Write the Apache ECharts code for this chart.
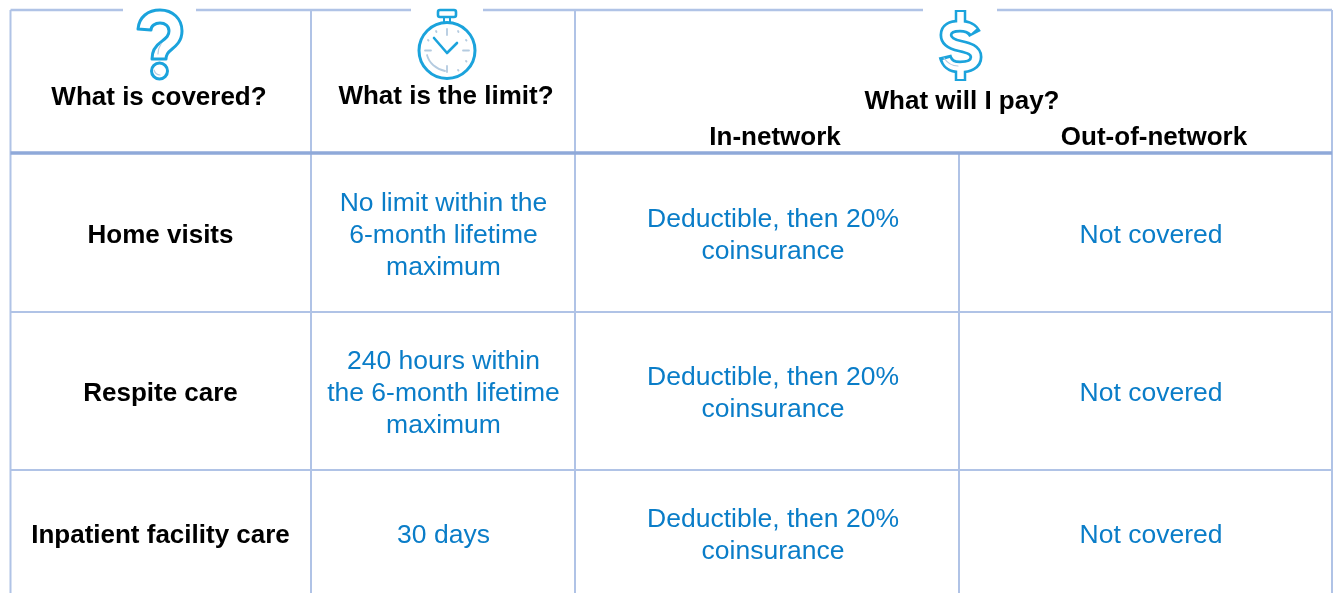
<!DOCTYPE html>
<html><head><meta charset="utf-8">
<style>html,body{margin:0;padding:0;background:#fff}#c{width:1337px;height:593px}</style>
<script src="https://cdn.jsdelivr.net/npm/echarts@6/dist/echarts.min.js"></script>
</head><body><div id="c"></div>
<script>
const headerLabels = ['What is covered?', 'What is the limit?', 'What will I pay?', 'In-network', 'Out-of-network'];
const services = ['Home visits', 'Respite care', 'Inpatient facility care'];
const limits = ['No limit within the\n6-month lifetime\nmaximum', '240 hours within\nthe 6-month lifetime\nmaximum', '30 days'];
const inNetwork = ['Deductible, then 20%\ncoinsurance', 'Deductible, then 20%\ncoinsurance', 'Deductible, then 20%\ncoinsurance'];
const outOfNetwork = ['Not covered', 'Not covered', 'Not covered'];

const colEdges = [10.5, 311, 575, 959, 1332];
const rowEdges = [153, 312, 470, 593];
const colCenters = [160.5, 443.5, 773, 1151];
const rowCenters = [236, 394, 536];
const FONT = '"Liberation Sans"';
const INK = '#000000', BLUE = '#0a7dc8', GRID = '#b0c3e6', HEAD = '#8fa9d9', ICON = '#1ba3dc', SOFT = '#b4cbe0';

const texts = [];
[[159,98],[446,97],[962,102],[775,138],[1154,138]].forEach((p,i)=>texts.push({x:p[0],y:p[1],t:headerLabels[i],bold:1}));
services.forEach((s,i)=>texts.push({x:colCenters[0],y:rowCenters[i],t:s,bold:1}));
limits.forEach((s,i)=>texts.push({x:colCenters[1],y:rowCenters[i],t:s}));
inNetwork.forEach((s,i)=>texts.push({x:colCenters[2],y:rowCenters[i],t:s}));
outOfNetwork.forEach((s,i)=>texts.push({x:colCenters[3],y:rowCenters[i],t:s}));

const lines = [
  [colEdges[0],10,123,10,GRID,2.5],[196,10,411,10,GRID,2.5],[483,10,923,10,GRID,2.5],[997,10,colEdges[4],10,GRID,2.5],
  [colEdges[0],10,colEdges[0],593,GRID,2],[colEdges[1],10,colEdges[1],593,GRID,2],[colEdges[2],10,colEdges[2],593,GRID,2],
  [colEdges[3],153,colEdges[3],593,GRID,2],[colEdges[4],10,colEdges[4],593,GRID,2],
  [colEdges[0],rowEdges[1],colEdges[4],rowEdges[1],GRID,2],[colEdges[0],rowEdges[2],colEdges[4],rowEdges[2],GRID,2],
  [colEdges[0],rowEdges[0],colEdges[4],rowEdges[0],HEAD,3.5]
];

const stroke=(d,c,w,cap)=>({type:'path',shape:{pathData:d},style:{fill:'none',stroke:c,lineWidth:w,lineCap:cap||'round',lineJoin:'round'}});
const qm='M138 29C139 17 148 10 160 10C173 10 182 19 182 31C182 41 176 46 171 50C167 53 166 55 166 59L152 59C152 51 155 46 161 42C166 38 169 36 169 31C169 26 165 23 160 23C155 23 151 26 151 30Z';
const sOuter='M975 34C972 28 966 26 960 26C951 26 946 29 946 35C946 42 953 44.5 960 46C969 48 976 50 976 57C976 64 969 67 960 67C952 67 947 64 945 56';
const sInner='M973.8 31C971 28 966 26 960 26C951 26 946 29 946 35C946 42 953 44.5 960 46C969 48 976 50 976 57C976 64 969 67 960 67C952 67 947.6 64 946.2 59';
const icons=[
  stroke(qm,ICON,3),
  {type:'circle',shape:{cx:159.5,cy:71,r:8},style:{fill:'#fff',stroke:ICON,lineWidth:3}},
  stroke('M158 54C158 50 159 47 161 44',SOFT,1.2),
  stroke('M154 70C155 73 157 75 160 75',SOFT,1.2),
  {type:'rect',shape:{x:438,y:10,width:18,height:7,r:2},style:{fill:'#fff',stroke:ICON,lineWidth:2.6}},
  stroke('M444 18L444 22M450 18L450 22',ICON,2),
  {type:'circle',shape:{cx:447,cy:50.5,r:28},style:{fill:'#fff',stroke:ICON,lineWidth:3}},
  stroke('M434 38L447 53L457 43',ICON,2.6),
  stroke('M447 29L447 35M447 66L447 72M425 50.5L431 50.5M463 50.5L469 50.5',SOFT,1.8),
  stroke('M436 31L436.5 32M458 31L458.5 32M466 40L466.5 40.5M466 61L466.5 61.5M458 70L458.5 70.5M428 40L428.5 40.5',SOFT,1.8),
  stroke('M427 55C429 63 436 69 445 71',SOFT,1.8),
  stroke(sOuter,ICON,13,'butt'),
  stroke('M960.5 10L960.5 28M960.5 65L960.5 81',ICON,11.5,'butt'),
  stroke('M960.5 12L960.5 28M960.5 65L960.5 79',"#fff",6.5,'butt'),
  stroke(sInner,'#fff',7.5,'butt'),
  stroke('M944 58C948 64 954 66 958 66',SOFT,1.2)
];

const chart = echarts.init(document.getElementById('c'));
chart.setOption({
  animation:false,
  backgroundColor:'#fff',
  grid:{left:0,right:0,top:0,bottom:0},
  xAxis:{type:'value',min:0,max:1337,show:false},
  yAxis:{type:'value',min:0,max:593,inverse:true,show:false},
  series:[
    {type:'custom',coordinateSystem:'cartesian2d',silent:true,clip:false,data:lines.map(l=>[l[0],l[1]]),
     encode:{x:0,y:1},
     renderItem:(p,api)=>{const l=lines[p.dataIndex],a=api.coord([l[0],l[1]]),b=api.coord([l[2],l[3]]);
       return {type:'line',shape:{x1:a[0],y1:a[1],x2:b[0],y2:b[1]},style:{stroke:l[4],lineWidth:l[5]}};}},
    {type:'custom',coordinateSystem:'cartesian2d',silent:true,clip:false,z:5,data:[[0,0]],
     encode:{x:0,y:1},
     renderItem:()=>({type:'group',children:icons})},
    {type:'custom',coordinateSystem:'cartesian2d',silent:true,clip:false,z:10,data:texts.map(t=>[t.x,t.y]),
     encode:{x:0,y:1},
     renderItem:(p,api)=>{const t=texts[p.dataIndex],a=api.coord([t.x,t.y]);
       return {type:'text',x:a[0],y:a[1],style:{text:t.t,fill:t.bold?INK:BLUE,
         fontFamily:FONT,fontWeight:t.bold?'bold':'normal',fontSize:t.bold?26:26.5,lineHeight:32,align:'center',verticalAlign:'middle'}};}}
  ]
});
</script></body></html>
